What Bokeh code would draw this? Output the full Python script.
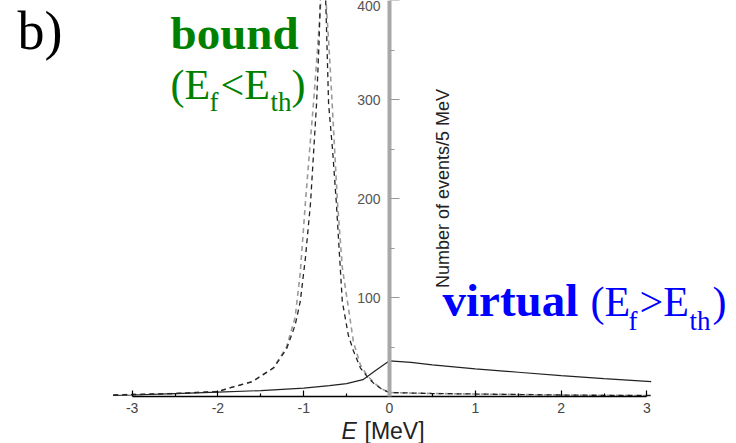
import math
from bokeh.plotting import figure
from bokeh.models import LinearAxis, FixedTicker, Label, Range1d
from bokeh.embed import file_html
from bokeh.resources import INLINE

# ---------------- data ----------------
x_ticks = [-3, -2, -1, 0, 1, 2, 3]
x_tick_labels = ["-3", "-2", "-1", "0", "1", "2", "3"]
x_minor = [-2.5, -1.5, -0.5, 0.5, 1.5, 2.5]
y_ticks = [100, 200, 300, 400]
y_minor = [50, 150, 250, 350]

# solid curve (virtual state)
e_solid = [-3.22, -3.0, -2.5, -2.0, -1.5, -1.0, -0.7, -0.5, -0.31, -0.15, 0.0,
           0.25, 0.5, 1.0, 1.5, 2.0, 2.5, 3.05]
n_solid = [1, 1.5, 3, 4.5, 6, 8.5, 11, 13, 17, 27, 36,
           34.5, 32, 28, 24.5, 21, 18, 15]

# black dashed curve (bound state)
e_dash_black = [-3.22, -3.0, -2.5, -2.0, -1.85, -1.6, -1.35, -1.2, -1.1, -1.04,
                -0.98, -0.92, -0.85, -0.82, -0.8, -0.78, -0.76, -0.74, -0.71,
                -0.66, -0.62, -0.55, -0.48, -0.42, -0.34, -0.26, -0.18, -0.1,
                0.0, 0.5, 1.0, 1.5, 2.0, 2.5, 3.05]
n_dash_black = [1.5, 2, 3, 5, 9, 15, 29, 48, 72, 96,
                140, 196, 296, 360, 420, 450, 440, 390, 296,
                245, 196, 96, 62, 46, 29, 20, 13, 8,
                4, 3, 2.5, 2, 1.5, 1.2, 1]

# gray dashed curve (bound state, wider)
e_dash_gray = [-3.22, -3.0, -2.5, -2.0, -1.85, -1.6, -1.35, -1.2, -1.1, -1.04,
               -0.98, -0.93, -0.886, -0.84, -0.8, -0.77, -0.74, -0.71, -0.668,
               -0.64, -0.606, -0.55, -0.49, -0.42, -0.34, -0.26, -0.18, -0.1,
               0.0, 0.5, 1.0, 1.5, 2.0, 2.5, 3.05]
n_dash_gray = [1.5, 2, 3, 5, 9, 15, 29, 50, 80, 125,
               196, 250, 296, 350, 400, 430, 400, 360, 296,
               250, 196, 130, 96, 55, 32, 21, 14, 8,
               4, 3, 2.5, 2, 1.5, 1.2, 1]

# ---------------- figure (frame covers the whole canvas) ----------------
W, H = 736, 443
PX0, PXS = 389.0, 85.8      # pixel of E=0, pixels per MeV
PY0, PYS = 396.0, 0.99      # pixel of N=0, pixels per event

def dx(px):
    return (px - PX0) / PXS

def dy(py):
    return (PY0 - py) / PYS

p = figure(width=W, height=H, output_backend="svg", toolbar_location=None,
           x_range=Range1d(dx(0), dx(W)), y_range=Range1d(dy(H), dy(0)),
           x_axis_location=None, y_axis_location=None,
           min_border=0, min_border_left=0, min_border_right=0,
           min_border_top=0, min_border_bottom=0)
p.outline_line_color = None
p.background_fill_color = "white"
p.border_fill_color = "white"
for g in p.grid:
    g.visible = False

xax = LinearAxis(fixed_location=0,
                 ticker=FixedTicker(ticks=x_ticks, minor_ticks=x_minor),
                 bounds=(-3, 3),
                 axis_line_color="black", axis_line_width=1.5,
                 major_tick_in=6, major_tick_out=0,
                 minor_tick_in=3, minor_tick_out=0,
                 major_tick_line_color="black", minor_tick_line_color="black",
                 major_tick_line_width=1.2, minor_tick_line_width=1.2,
                 major_label_text_font="Liberation Sans",
                 major_label_text_font_size="14px",
                 major_label_text_color="#444444",
                 major_label_standoff=6,
                 major_label_overrides={t: l for t, l in zip(x_ticks, x_tick_labels)})
p.add_layout(xax, "below")

yax = LinearAxis(fixed_location=0,
                 ticker=FixedTicker(ticks=y_ticks, minor_ticks=y_minor),
                 bounds=(0, dy(0)),
                 axis_line_color="#a8a8a8", axis_line_width=4,
                 major_tick_in=10, major_tick_out=0,
                 minor_tick_in=5, minor_tick_out=0,
                 major_tick_line_color="#999999", minor_tick_line_color="#999999",
                 major_tick_line_width=1.2, minor_tick_line_width=1.2,
                 major_label_text_font="Liberation Sans",
                 major_label_text_font_size="14px",
                 major_label_text_color="#555555",
                 major_label_standoff=9)
p.add_layout(yax, "left")

# curves
p.line(e_dash_gray, n_dash_gray, line_color="#9a9a9a", line_width=1.6, line_dash="5 4")
p.line(e_dash_black, n_dash_black, line_color="#222222", line_width=1.3, line_dash="5 4")
p.line(e_solid, n_solid, line_color="#222222", line_width=1.2)

# texts (py is the wanted baseline pixel; a small em-based correction
# compensates the renderer's baseline placement)
def lab(px, py, text, size, color, font="Liberation Serif", style="normal",
        align="left", angle=0.0):
    fs = float(size.replace("px", ""))
    shift = 0.365 * fs
    if angle:
        x, y = dx(px - shift), dy(py)
    else:
        x, y = dx(px), dy(py - shift)
    p.add_layout(Label(x=x, y=y, text=text, text_font=font,
                       text_font_size=size, text_color=color, text_font_style=style,
                       text_baseline="alphabetic", text_align=align, angle=angle))

lab(17, 50, "b)", "54px", "black")

GREEN = "#008000"
BLUE = "#0000ff"
lab(170, 50, "bound", "47px", GREEN, style="bold")
lab(170, 100, "(E", "42px", GREEN)
lab(209, 111, "f", "27px", GREEN)
lab(220, 100, "<E", "42px", GREEN)
lab(270, 111, "th", "27px", GREEN)
lab(291, 100, ")", "42px", GREEN)

lab(442, 317, "virtual", "47px", BLUE, style="bold")
lab(590, 317, "(E", "42px", BLUE)
lab(628, 330, "f", "27px", BLUE)
lab(639, 317, ">E", "42px", BLUE)
lab(689, 330, "th", "27px", BLUE)
lab(712, 317, ")", "42px", BLUE)

lab(449, 188, "Number of events/5 MeV", "18px", "#222222", font="Liberation Sans",
    align="center", angle=math.pi / 2)

lab(341, 439, "E", "23px", "#222222", font="Liberation Sans", style="italic")
lab(364, 439, "[MeV]", "23px", "#222222", font="Liberation Sans")

open("out.html", "w").write(file_html(p, INLINE))
